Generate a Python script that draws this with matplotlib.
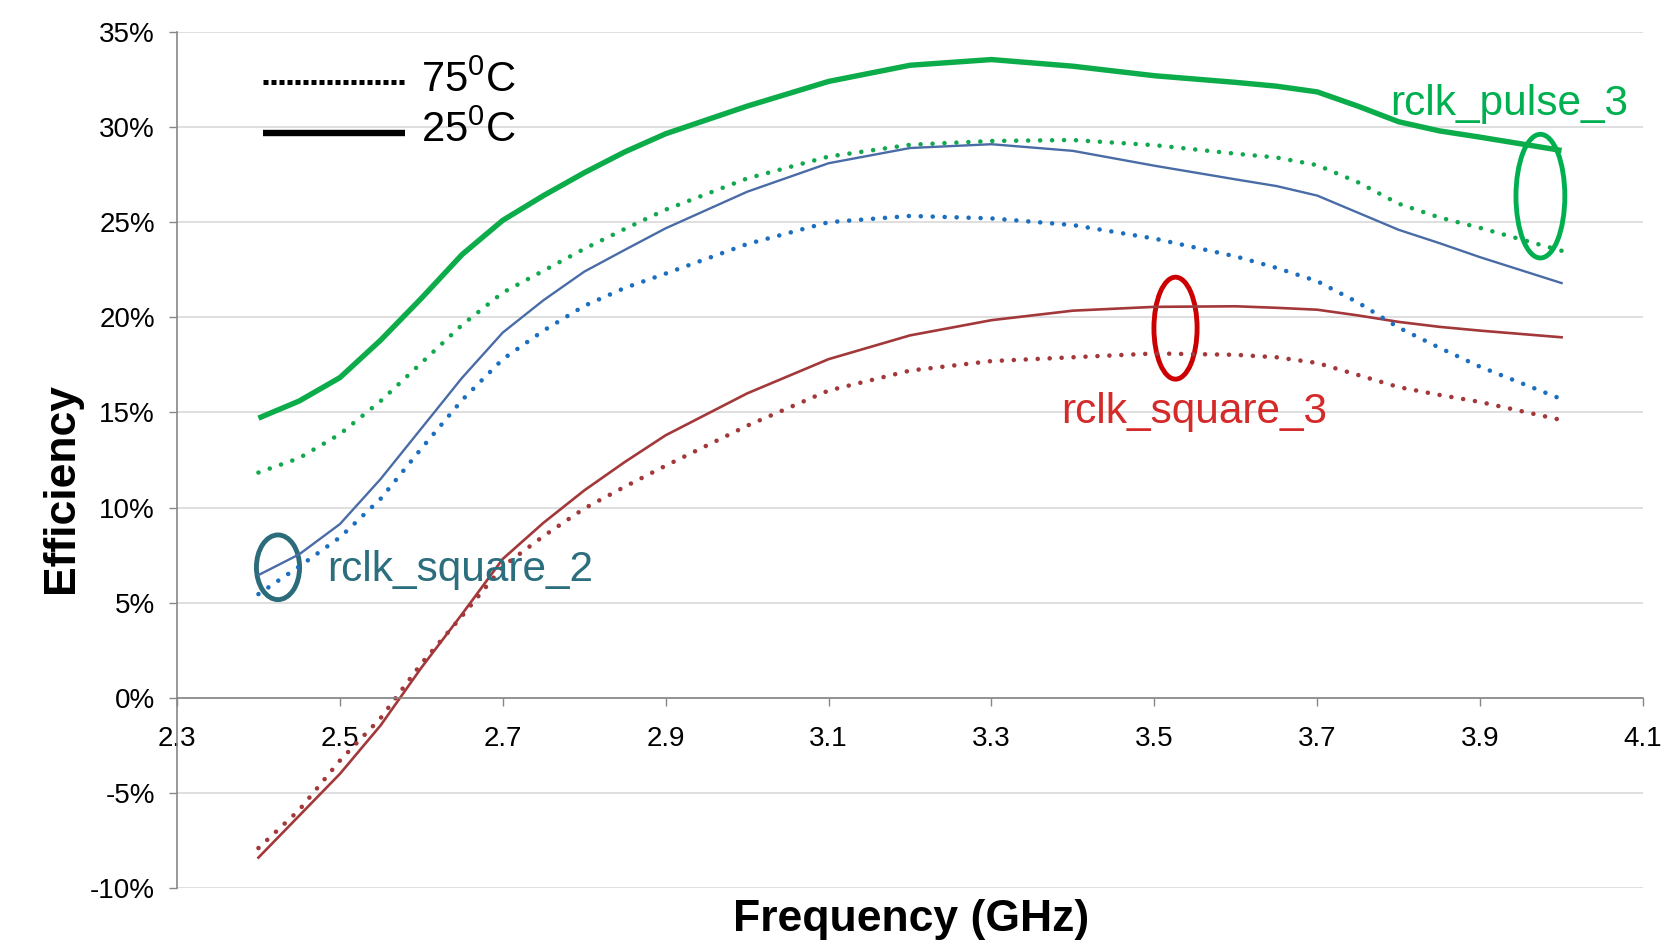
import matplotlib.pyplot as plt
from matplotlib.patches import Ellipse
from matplotlib.ticker import FuncFormatter

plt.rcParams['font.family'] = ['Liberation Sans', 'DejaVu Sans']
plt.rcParams['mathtext.fontset'] = 'custom'
plt.rcParams['mathtext.rm'] = 'Liberation Sans'

# Frequency points (GHz)
freq = [2.4, 2.45, 2.5, 2.55, 2.6, 2.65, 2.7, 2.75, 2.8, 2.85, 2.9, 3.0, 3.1,
        3.2, 3.3, 3.4, 3.5, 3.6, 3.65, 3.7, 3.75, 3.8, 3.85, 3.9, 4.0]

# Efficiency (%), rclk_pulse_3
pulse3_25 = [14.7, 15.6, 16.83, 18.8, 21.0, 23.3, 25.1, 26.4, 27.6, 28.7, 29.65, 31.1, 32.4,
             33.25, 33.55, 33.2, 32.7, 32.35, 32.15, 31.85, 31.1, 30.28, 29.8, 29.47, 28.77]
pulse3_75 = [11.84, 12.6, 13.86, 15.6, 17.6, 19.6, 21.3, 22.45, 23.6, 24.65, 25.66, 27.3, 28.45,
             29.07, 29.27, 29.32, 29.05, 28.6, 28.4, 28.0, 27.1, 25.97, 25.25, 24.7, 23.5]

# rclk_square_2
square2_25 = [6.45, 7.54, 9.13, 11.5, 14.16, 16.82, 19.2, 20.9, 22.4, 23.55, 24.68, 26.6, 28.1,
              28.9, 29.1, 28.75, 27.97, 27.25, 26.9, 26.4, 25.5, 24.6, 23.9, 23.16, 21.8]
square2_75 = [5.45, 6.9, 8.43, 10.46, 13.1, 15.65, 17.8, 19.3, 20.6, 21.55, 22.3, 23.85, 25.0,
              25.33, 25.2, 24.85, 24.14, 23.2, 22.6, 21.9, 20.78, 19.46, 18.4, 17.4, 15.7]

# rclk_square_3
square3_25 = [-8.4, -6.2, -4.0, -1.45, 1.58, 4.4, 7.3, 9.2, 10.9, 12.4, 13.8, 16.0, 17.8,
              19.05, 19.85, 20.35, 20.55, 20.58, 20.5, 20.4, 20.1, 19.76, 19.5, 19.3, 18.95]
square3_75 = [-7.9, -5.9, -3.3, -1.07, 1.8, 4.3, 6.9, 8.5, 9.95, 11.1, 12.2, 14.3, 16.15,
              17.2, 17.7, 17.9, 18.1, 18.03, 17.9, 17.6, 16.97, 16.33, 15.92, 15.55, 14.6]

x_ticks = [2.3, 2.5, 2.7, 2.9, 3.1, 3.3, 3.5, 3.7, 3.9, 4.1]
y_ticks = [-10, -5, 0, 5, 10, 15, 20, 25, 30, 35]

fig = plt.figure(figsize=(16.81, 9.46), dpi=100)
ax = fig.add_axes([0.1053, 0.0613, 0.8721, 0.9049])

dot = (0, (0.01, 2.6))
ax.plot(freq, square3_25, color='#a3383b', lw=1.9)
ax.plot(freq, square3_75, color='#a3383b', lw=3.3, ls=dot, dash_capstyle='round')
ax.plot(freq, square2_25, color='#4a6ca6', lw=1.7)
ax.plot(freq, square2_75, color='#1c6fbf', lw=3.3, ls=dot, dash_capstyle='round')
ax.plot(freq, pulse3_75, color='#12a84f', lw=3.3, ls=dot, dash_capstyle='round')
ax.plot(freq, pulse3_25, color='#0cac4a', lw=3.9, solid_capstyle='butt')

ax.set_xlim(2.3, 4.1)
ax.set_ylim(-10, 35)
ax.set_xticks(x_ticks)
ax.set_yticks(y_ticks)
ax.yaxis.set_major_formatter(FuncFormatter(lambda v, p: f'{v:.0f}%'))
ax.grid(axis='y', color='#d9d9d9', lw=1.2)
ax.set_axisbelow(True)
for s in ['top', 'right']:
    ax.spines[s].set_visible(False)
ax.spines['bottom'].set_position(('data', 0))
for s in ['left', 'bottom']:
    ax.spines[s].set_color('#868686')
    ax.spines[s].set_linewidth(1.2)
ax.tick_params(axis='x', length=6, width=1, color='#868686', pad=14, labelsize=20)
ax.tick_params(axis='y', length=6, width=1, color='#868686', pad=10, labelsize=20)

# legend drawn by hand
ax.plot([0.0585, 0.1557], [0.941, 0.941], transform=ax.transAxes, color='black',
        lw=3.6, ls=(0, (1, 0.6)), dash_capstyle='butt')
ax.plot([0.0585, 0.1557], [0.882, 0.882], transform=ax.transAxes, color='black',
        lw=4.6, solid_capstyle='butt')
ax.text(0.1667, 0.943, r'75$^{\mathrm{0}}$C', transform=ax.transAxes, fontsize=30, va='center')
ax.text(0.1667, 0.884, r'25$^{\mathrm{0}}$C', transform=ax.transAxes, fontsize=30, va='center')

# series labels and ellipses
ax.text(3.789, 31.2, 'rclk_pulse_3', color='#00b050', fontsize=30.5, va='center')
ax.text(3.3855, 15.0, 'rclk_square_3', color='#d42a2a', fontsize=30.5, va='center')
ax.text(2.484, 6.7, 'rclk_square_2', color='#2b6e7e', fontsize=30.5, va='center')
ax.add_patch(Ellipse((3.974, 26.37), 0.06, 6.5, fill=False, ec='#00b050', lw=3.5))
ax.add_patch(Ellipse((3.526, 19.43), 0.053, 5.36, fill=False, ec='#cc0000', lw=3.5))
ax.add_patch(Ellipse((2.424, 6.86), 0.053, 3.4, fill=False, ec='#2b6b7a', lw=3.5))

fig.text(0.0363, 0.484, 'Efficiency', rotation=90, fontsize=32, fontweight='bold',
         ha='center', va='center')
fig.text(0.542, 0.0285, 'Frequency (GHz)', fontsize=32, fontweight='bold',
         ha='center', va='center')

fig.savefig('out.png', dpi=100)
